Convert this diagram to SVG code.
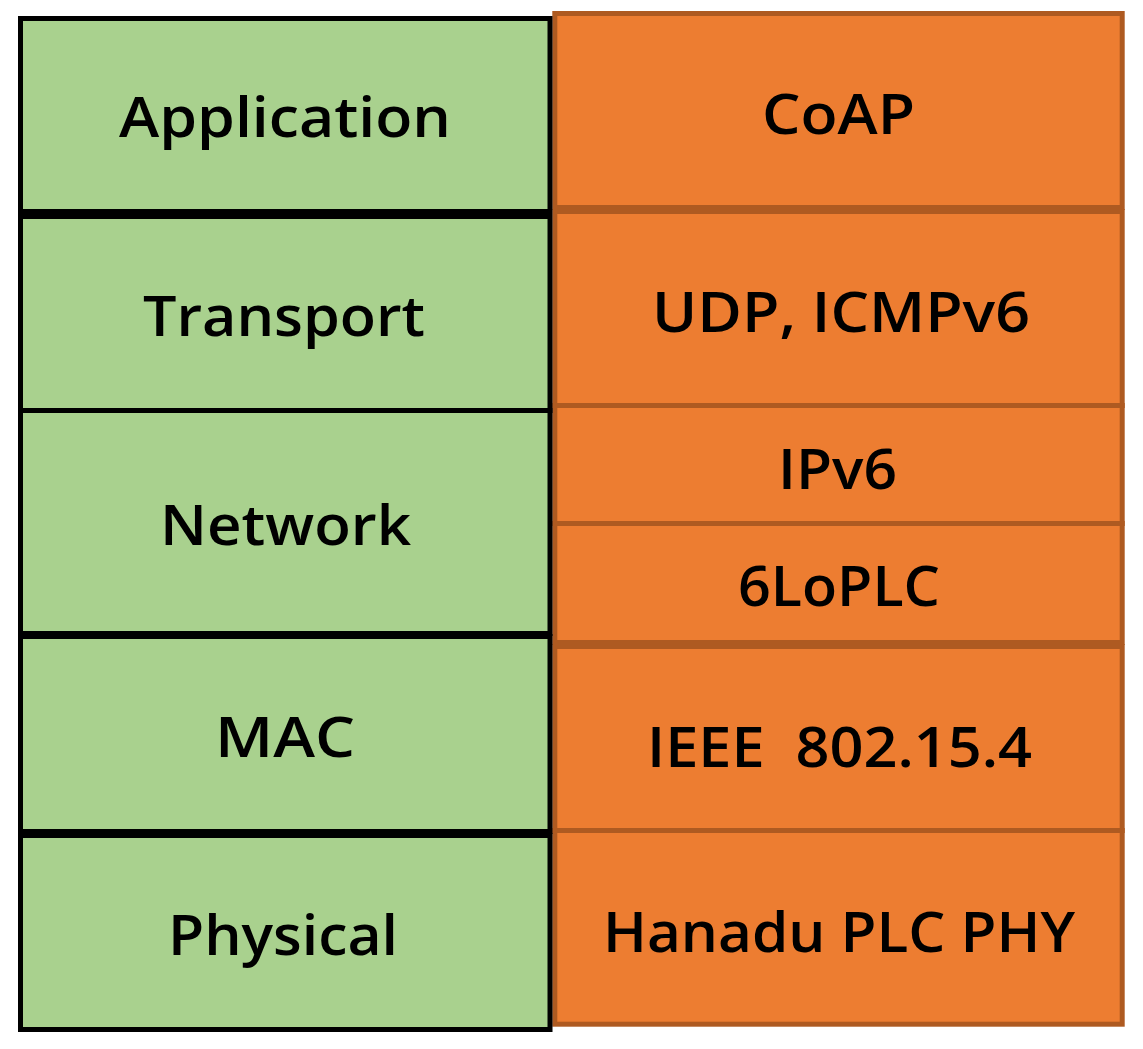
<svg xmlns="http://www.w3.org/2000/svg" width="1143" height="1049" viewBox="0 0 1143 1049">
<style>
.g{fill:#A9D18E;stroke:#000;stroke-width:5}
.o{fill:#ED7D31;stroke:#AE5A21;stroke-width:5}
text{font-family:"Open Sans","Liberation Sans",sans-serif;font-weight:600;font-size:56px;fill:#000;text-anchor:middle;white-space:pre}
</style>
<rect width="1143" height="1049" fill="#fff"/>
<g id="right-column">
<g id="coap"><rect class="o" x="554.8" y="13.5" width="567.4" height="194"/><text x="838.5" y="134" textLength="153" lengthAdjust="spacingAndGlyphs">CoAP</text></g>
<g id="udp"><rect class="o" x="554.8" y="211.5" width="567.4" height="194"/><text x="841" y="332" textLength="378" lengthAdjust="spacingAndGlyphs">UDP, ICMPv6</text></g>
<g id="ipv6"><rect class="o" x="554.8" y="405.5" width="567.4" height="118"/><text x="837.5" y="489" textLength="119" lengthAdjust="spacingAndGlyphs">IPv6</text></g>
<g id="6loplc"><rect class="o" x="554.8" y="523.5" width="567.4" height="119"/><text x="839" y="606" textLength="202" lengthAdjust="spacingAndGlyphs">6LoPLC</text></g>
<g id="ieee"><rect class="o" x="554.8" y="646.5" width="567.4" height="184"/><text x="839.5" y="767" textLength="385" lengthAdjust="spacingAndGlyphs">IEEE  802.15.4</text></g>
<g id="hanadu"><rect class="o" x="554.8" y="830.5" width="567.4" height="193.7"/><text x="839" y="952" textLength="472" lengthAdjust="spacingAndGlyphs">Hanadu PLC PHY</text></g>
</g>
<g id="left-column">
<g id="application"><rect class="g" x="20.5" y="18.5" width="529.5" height="193"/><text x="285" y="137" textLength="332" lengthAdjust="spacingAndGlyphs">Application</text></g>
<g id="transport"><rect class="g" x="20.5" y="216.5" width="529.5" height="194"/><text x="284" y="336" textLength="282" lengthAdjust="spacingAndGlyphs">Transport</text></g>
<g id="network"><rect class="g" x="20.5" y="410.5" width="529.5" height="223"/><text x="285.5" y="545" textLength="251" lengthAdjust="spacingAndGlyphs">Network</text></g>
<g id="mac"><rect class="g" x="20.5" y="636.5" width="529.5" height="195"/><text x="285" y="757" textLength="140" lengthAdjust="spacingAndGlyphs">MAC</text></g>
<g id="physical"><rect class="g" x="20.5" y="835.5" width="529.5" height="194"/><text x="283" y="955" textLength="230" lengthAdjust="spacingAndGlyphs">Physical</text></g>
</g>
<g id="connectors"/>
</svg>
